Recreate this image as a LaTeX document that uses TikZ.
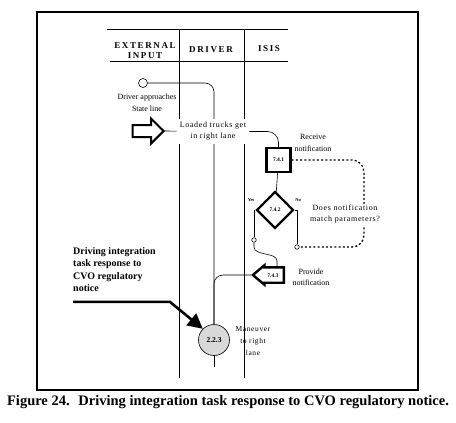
\documentclass[tikz,border=0pt]{standalone}
\usepackage{fontspec}
\setmainfont{Liberation Serif}
\newfontfamily\spaced[LetterSpace=8]{Liberation Serif}
\newfontfamily\headfont[LetterSpace=18]{Liberation Serif}
\usetikzlibrary{shapes.geometric,shapes.arrows,arrows.meta}
\begin{document}
\begin{tikzpicture}[x=1pt,y=-1pt,
    lane/.style={line width=0.6pt},
    flow/.style={line width=0.6pt},
    head/.style={font=\headfont\bfseries\fontsize{9}{10.5}\selectfont, align=center},
    small/.style={font=\fontsize{8}{11.5}\selectfont, align=center},
    wide/.style={font=\spaced\fontsize{8}{11}\selectfont, align=center},
    procbox/.style={draw, line width=2.4pt, inner sep=0pt, font=\bfseries\fontsize{5.5}{6}\selectfont},
    opendot/.style={circle, draw, fill=white, line width=0.6pt, inner sep=0pt, minimum size=#1},
    yesno/.style={font=\bfseries\fontsize{4.5}{5}\selectfont}]
    \useasboundingbox (0,0) rectangle (456,423);
    \draw[line width=1.2pt] (37,12) rectangle (418,390);
    \draw[lane] (107,29) -- (288,29);
    \draw[lane] (110,61) -- (288,61);
    \foreach \x in {179,244} \draw[lane] (\x,29) -- (\x,378);
    \node[head] (ext) at (145,50.5) {EXTERNAL\\INPUT};
    \node[head] (drv) at (211,50) {DRIVER};
    \node[head] (isis) at (269,49) {ISIS};

    \node[opendot=9pt] (start) at (143,83) {};
    \node[small] (approach) at (147,103) {Driver approaches\\State line};
    \node[circle, draw, fill=gray!30, line width=0.6pt, minimum size=31pt, inner sep=0pt,
          font=\bfseries\fontsize{7.5}{9}\selectfont] (n223) at (214,340) {2.2.3};
    \coordinate (drvend) at (214,367);
    \draw[flow, rounded corners=9pt] (start) -| (n223);
    \draw[flow] (n223) -- (drvend);
    \node[wide, fill=white, inner sep=3pt] (loaded) at (213,131.5) {Loaded trucks get\\in right lane};
    \node[single arrow, draw, line width=2pt, inner sep=5pt, minimum height=31pt,
          single arrow head extend=6.5pt, single arrow tip angle=90, anchor=tip] (inarrow) at (165,131) {};
    \draw[flow] (inarrow.tip) -- (loaded);

    \node[procbox, minimum size=24pt] (n741) at (278.5,160) {7.4.1};
    \node[small] (receive) at (313,143) {Receive\\notification};
    \draw[flow, rounded corners=11pt] (loaded) -| (n741);
    \node[procbox, diamond, minimum size=37pt] (n742) at (275,210) {7.4.2};
    \draw[flow] (n741) -- (n742);
    \node[yesno] (yes) at (251,200) {Yes};
    \node[yesno] (no) at (298,200) {No};
    \node[opendot=4.5pt] (yesdot) at (254,240) {};
    \node[opendot=4.5pt] (nodot) at (297,247) {};
    \draw[flow] (n742.west) -| (yesdot);
    \draw[flow] (n742.east) -| (nodot);
    \draw[line width=1.3pt, dash pattern=on 2pt off 2.2pt, rounded corners=12pt] (n741) -- (364,160) -- (364,247) -- (nodot);
    \node[wide, fill=white, inner sep=1pt] (match) at (345,214.5) {Does notification\\match parameters?};

    \node[procbox, single arrow, shape border rotate=180, inner xsep=2pt, inner ysep=4.5pt,
          text height=4pt, text depth=0pt, minimum height=31pt, single arrow head extend=2pt,
          single arrow tip angle=80, anchor=tip] (n743) at (251,275) {7.4.3};
    \coordinate (n743top) at (277,268);
    \node[small] (provide) at (311,277.5) {Provide\\notification};
    \draw[flow] (yesdot) -- (254,247) .. controls (254,256) and (277,252) .. (277,261) -- (n743top);
    \draw[flow, rounded corners=9pt] (n743.tip) -| (n223);
    \node[wide, font=\spaced\fontsize{7.5}{12}\selectfont] (maneuver) at (253,341) {Maneuver\\to right\\lane};

    \node[font=\bfseries\fontsize{10}{12.5}\selectfont, align=left, anchor=north west, inner sep=0pt]
        (note) at (73,247) {Driving integration\\task response to\\CVO regulatory\\notice};
    \draw[line width=2.6pt, -{Triangle[length=15pt,width=15pt]}] ([yshift=-10pt]note.south west) -- ++(97,0) -- (n223.north west);

    \node[font=\bfseries\fontsize{14.5}{16}\selectfont] (caption) at (228,402)
        {Figure 24.\hspace{0.6em}Driving integration task response to CVO regulatory notice.};
\end{tikzpicture}
\end{document}
